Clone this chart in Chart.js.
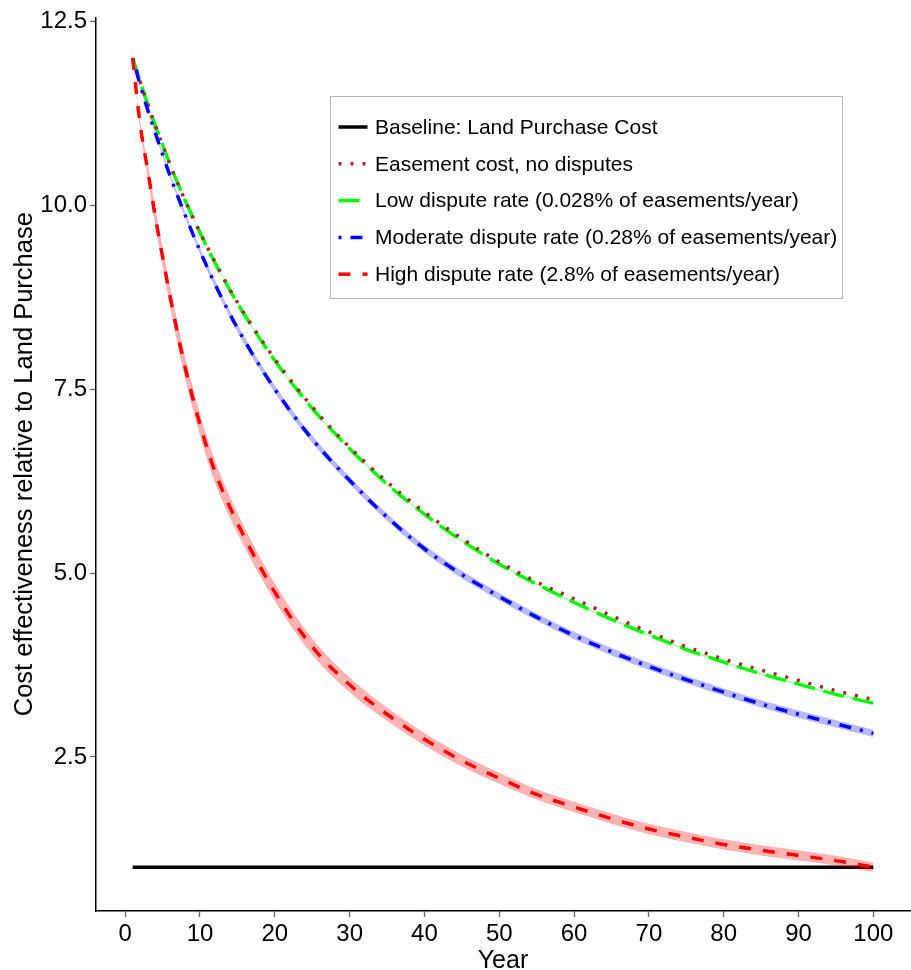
<!DOCTYPE html>
<html lang="en">
  <head>
    <meta charset="UTF-8" />
    <title>Cost effectiveness relative to Land Purchase</title>
    <script src="https://cdn.jsdelivr.net/npm/chart.js@4.4.1/dist/chart.umd.min.js"></script>
  </head>
  <body style="margin:0; background:#fff">
    <canvas id="myChart" width="911" height="970"></canvas>
    <script>
      // years
      const years = [1, 2, 3, 4, 5, 6, 8, 10, 12, 15, 20, 25, 30, 35, 40, 45, 50, 55, 60, 65, 70, 75, 80, 85, 90, 95, 100];
      const baselineYears = [1, 100];
      const baseline = [1, 1];
      const noDispute = [12.00, 11.68, 11.38, 11.09, 10.82, 10.55, 10.07, 9.63, 9.23, 8.68, 7.91, 7.26, 6.71, 6.24, 5.83, 5.47, 5.15, 4.88, 4.65, 4.42, 4.20, 4.00, 3.83, 3.68, 3.54, 3.40, 3.28];
      const lowDispute = [12.00, 11.68, 11.38, 11.09, 10.82, 10.55, 10.07, 9.63, 9.22, 8.67, 7.89, 7.24, 6.69, 6.21, 5.80, 5.44, 5.12, 4.85, 4.60, 4.37, 4.16, 3.96, 3.79, 3.63, 3.49, 3.35, 3.23];
      const lowBand = [0, 0.005, 0.01, 0.01, 0.015, 0.015, 0.015, 0.015, 0.015, 0.015, 0.015, 0.015, 0.015, 0.015, 0.015, 0.015, 0.015, 0.015, 0.015, 0.015, 0.015, 0.015, 0.015, 0.015, 0.015, 0.015, 0.015];
      const modDispute = [12.00, 11.64, 11.30, 10.99, 10.69, 10.40, 9.87, 9.38, 8.93, 8.33, 7.50, 6.82, 6.26, 5.76, 5.33, 4.98, 4.68, 4.40, 4.15, 3.93, 3.73, 3.55, 3.38, 3.22, 3.08, 2.95, 2.82];
      const modBand = [0, 0.01, 0.02, 0.02, 0.03, 0.03, 0.035, 0.04, 0.045, 0.05, 0.05, 0.05, 0.05, 0.05, 0.05, 0.05, 0.05, 0.05, 0.05, 0.05, 0.05, 0.05, 0.05, 0.05, 0.05, 0.05, 0.05];
      const highDispute = [12.00, 11.10, 10.48, 9.86, 9.30, 8.76, 7.80, 7.02, 6.38, 5.68, 4.74, 4.00, 3.48, 3.08, 2.74, 2.45, 2.21, 1.99, 1.82, 1.66, 1.52, 1.41, 1.31, 1.23, 1.16, 1.09, 1.00];
      const highBand = [0, 0.06, 0.10, 0.12, 0.13, 0.14, 0.15, 0.15, 0.15, 0.14, 0.12, 0.11, 0.10, 0.09, 0.085, 0.08, 0.075, 0.07, 0.07, 0.07, 0.07, 0.07, 0.07, 0.07, 0.07, 0.065, 0.065];
      const xTicks = [0, 10, 20, 30, 40, 50, 60, 70, 80, 90, 100];
      const yTicks = [2.5, 5.0, 7.5, 10.0, 12.5];
      const legendLabels = [
        'Baseline: Land Purchase Cost',
        'Easement cost, no disputes',
        'Low dispute rate (0.028% of easements/year)',
        'Moderate dispute rate (0.28% of easements/year)',
        'High dispute rate (2.8% of easements/year)'
      ];

      const FONT = '"Liberation Sans", Arial, sans-serif';

      function pts(xs, ys, off, sign) {
        return xs.map((x, i) => ({ x: x, y: ys[i] + (off ? sign * off[i] : 0) }));
      }

      function line(label, xs, ys, color, dash, order) {
        return {
          label: label,
          data: pts(xs, ys),
          borderColor: color,
          borderWidth: 3.5,
          borderDash: dash,
          borderCapStyle: 'butt',
          pointRadius: 0,
          fill: false,
          cubicInterpolationMode: 'monotone',
          order: order
        };
      }

      function band(xs, ys, off, color) {
        return [
          { data: pts(xs, ys, off, 1), borderWidth: 0, pointRadius: 0, fill: '+1', backgroundColor: color, cubicInterpolationMode: 'monotone', order: 5 },
          { data: pts(xs, ys, off, -1), borderWidth: 0, pointRadius: 0, fill: false, cubicInterpolationMode: 'monotone', order: 5 }
        ];
      }

      const styles = [
        { color: '#000000', dash: [] },
        { color: '#a52a2a', dash: [3, 9] },
        { color: '#00ff00', dash: [21, 9] },
        { color: '#0000ff', dash: [3, 9, 12, 9] },
        { color: '#ff0000', dash: [12, 12] }
      ];

      const datasets = [
        line(legendLabels[0], baselineYears, baseline, styles[0].color, styles[0].dash, 6),
        ...band(years, lowDispute, lowBand, 'rgba(0,255,0,0.3)'),
        ...band(years, modDispute, modBand, 'rgba(0,0,255,0.28)'),
        ...band(years, highDispute, highBand, 'rgba(255,0,0,0.3)'),
        line(legendLabels[2], years, lowDispute, styles[2].color, styles[2].dash, 3),
        line(legendLabels[1], years, noDispute, styles[1].color, styles[1].dash, 2),
        line(legendLabels[3], years, modDispute, styles[3].color, styles[3].dash, 1),
        line(legendLabels[4], years, highDispute, styles[4].color, styles[4].dash, 0)
      ];

      // legend box drawn like the original (grey frame, keys with same dashes)
      const boxLegend = {
        id: 'boxLegend',
        afterDraw(chart) {
          const ctx = chart.ctx;
          ctx.save();
          ctx.fillStyle = '#fff';
          ctx.fillRect(330, 96, 512, 202);
          ctx.strokeStyle = '#b3b3b3';
          ctx.lineWidth = 1;
          ctx.strokeRect(330.5, 96.5, 512, 202);
          ctx.font = '21px ' + FONT;
          ctx.textBaseline = 'middle';
          ctx.fillStyle = '#000';
          legendLabels.forEach((txt, i) => {
            const y = 127 + i * 36.8;
            ctx.beginPath();
            ctx.setLineDash(styles[i].dash);
            ctx.lineCap = 'butt';
            ctx.lineWidth = 3.5;
            ctx.strokeStyle = styles[i].color;
            ctx.moveTo(338.5, y);
            ctx.lineTo(367.5, y);
            ctx.stroke();
            ctx.fillText(txt, 375, y + 1);
          });
          ctx.restore();
        }
      };

      const ctx = document.getElementById('myChart').getContext('2d');
      new Chart(ctx, {
        type: 'line',
        data: { datasets: datasets },
        plugins: [boxLegend],
        options: {
          responsive: false,
          animation: false,
          events: [],
          layout: { padding: { top: 16, right: 1, left: 0, bottom: 0 } },
          plugins: { legend: { display: false }, tooltip: { enabled: false } },
          scales: {
            x: {
              type: 'linear',
              min: -3.9,
              max: 104.9,
              afterBuildTicks: s => { s.ticks = xTicks.map(v => ({ value: v })); },
              afterFit: s => { s.height = 59; },
              ticks: { font: { size: 24, family: FONT }, color: '#000', padding: 3, maxRotation: 0, autoSkip: false },
              grid: { drawOnChartArea: false, drawTicks: true, tickLength: 6, tickColor: '#666', tickWidth: 1.3 },
              border: { display: true, color: '#000', width: 1.5 },
              title: { display: true, text: 'Year', color: '#000', font: { size: 25, family: FONT }, padding: { top: 0, bottom: -6 } }
            },
            y: {
              type: 'linear',
              min: 0.405,
              max: 12.554,
              afterBuildTicks: s => { s.ticks = yTicks.map(v => ({ value: v })); },
              afterFit: s => { s.width = 96; },
              ticks: { font: { size: 24, family: FONT }, color: '#000', padding: 3, callback: v => v.toFixed(1) },
              grid: { drawOnChartArea: false, drawTicks: true, tickLength: 6, tickColor: '#666', tickWidth: 1.3 },
              border: { display: true, color: '#000', width: 1.5 },
              title: { display: true, text: 'Cost effectiveness relative to Land Purchase', color: '#000', font: { size: 25.5, family: FONT }, padding: { top: 10, bottom: 0 } }
            }
          }
        }
      });
    </script>
  </body>
</html>
